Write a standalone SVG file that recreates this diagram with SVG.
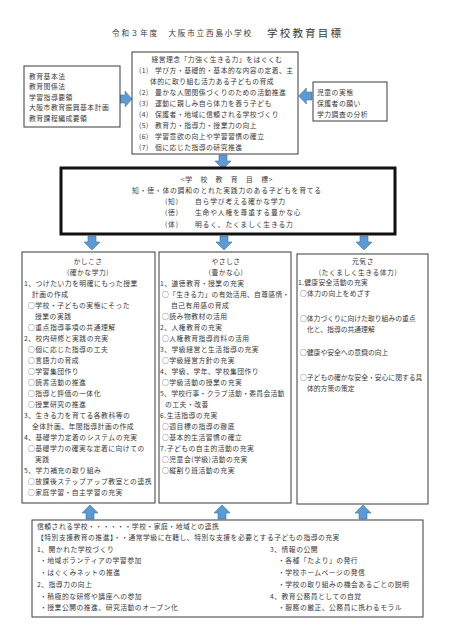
<svg xmlns="http://www.w3.org/2000/svg" width="451" height="640" viewBox="0 0 451 640">
<style>
text{font-family:"Noto Sans CJK JP","Noto Sans CJK SC",sans-serif;font-size:6.8px;fill:#383838;letter-spacing:0.5px}
.box{fill:#fff;stroke:#3a3a3a;stroke-width:1}
.thick{fill:#fff;stroke:#111;stroke-width:3}
.arr{fill:#5b9bd5;stroke:#41719c;stroke-width:0.6}
.c{text-anchor:middle}
.w{letter-spacing:0.8px}
.b{letter-spacing:0.5px}
.r{letter-spacing:0.3px}
.n{letter-spacing:0}
.t{font-size:7.5px;letter-spacing:1.9px}
.big{font-size:10.5px;letter-spacing:2.2px}
</style>
<defs>
<path id="ad" d="M-4,0 H4 V6 H8 L0,14 L-8,6 H-4 Z"/>
</defs>
<rect width="451" height="640" fill="#fff"/>

<g id="title">
<text class="t" x="112" y="36">令和３年度　大阪市立西島小学校</text>
<text class="big" x="267" y="37">学校教育目標</text>
</g>

<g id="connectors">
<use href="#ad" class="arr" transform="translate(120,99) rotate(-90) scale(1,0.85)"/>
<use href="#ad" class="arr" transform="translate(312,96) rotate(90) scale(1,0.95)"/>
<use href="#ad" class="arr" transform="translate(223,155)"/>
<use href="#ad" class="arr" transform="translate(92,236)"/>
<use href="#ad" class="arr" transform="translate(224,236)"/>
<use href="#ad" class="arr" transform="translate(364,236)"/>
<use href="#ad" class="arr" transform="translate(90,519) rotate(180)"/>
<use href="#ad" class="arr" transform="translate(222,519) rotate(180)"/>
<use href="#ad" class="arr" transform="translate(363,519) rotate(180)"/>
</g>

<g id="laws">
<rect class="box" x="24" y="66" width="96" height="61"/>
<text x="29" y="78.5">教育基本法</text>
<text x="29" y="89">教育関係法</text>
<text x="29" y="99.5">学習指導要領</text>
<text x="29" y="110">大阪市教育振興基本計画</text>
<text x="29" y="120.5">教育課程編成要領</text>
</g>

<g id="philosophy">
<rect class="box" x="132" y="52" width="166" height="102"/>
<text class="c" x="217" y="61.5">経営理念「力強く生きる力」をはぐくむ</text>
<text x="139" y="72.5">(1)</text><text x="155" y="72.5">学び方・基礎的・基本的な内容の定着、主</text>
<text x="150" y="83.5">体的に取り組む活力ある子どもの育成</text>
<text x="139" y="95">(2)</text><text x="155" y="95">豊かな人間関係づくりのための活動推進</text>
<text x="139" y="106">(3)</text><text x="155" y="106">運動に親しみ自ら体力を養う子ども</text>
<text x="139" y="117">(4)</text><text x="155" y="117">保護者・地域に信頼される学校づくり</text>
<text x="139" y="128">(5)</text><text x="155" y="128">教育力・指導力・授業力の向上</text>
<text x="139" y="139">(6)</text><text x="155" y="139">学習意欲の向上や学習習慣の確立</text>
<text x="139" y="150">(7)</text><text x="155" y="150">個に応じた指導の研究推進</text>
</g>

<g id="needs">
<rect class="box" x="313" y="82" width="74" height="39"/>
<text x="317" y="94.5">児童の実態</text>
<text x="317" y="105.5">保護者の願い</text>
<text x="317" y="116.5">学力調査の分析</text>
</g>

<g id="goal">
<rect class="thick" x="61" y="168" width="334" height="66"/>
<text class="c w" x="227" y="181.5">&lt;学　校　教　育　目　標&gt;</text>
<text class="c w" x="227" y="192.5">知・徳・体の調和のとれた実践力のある子どもを育てる</text>
<text class="w" x="165" y="203.5">(知)</text><text class="w" x="195" y="203.5">自ら学び考える確かな学力</text>
<text class="w" x="165" y="215">(徳)</text><text class="w" x="195" y="215">生命や人権を尊重する豊かな心</text>
<text class="w" x="165" y="226.5">(体)</text><text class="w" x="195" y="226.5">明るく、たくましく生きる力</text>
</g>

<g id="kashikosa">
<rect class="box" x="22" y="252" width="133" height="251"/>
<text class="c" x="88" y="263.5">かしこさ</text>
<text class="c" x="88" y="274.5">(確かな学力)</text>
<text x="24" y="285.5">1、つけたい力を明確にもった授業</text>
<text x="32" y="296.5">計画の作成</text>
<text x="28" y="307.5">○学校・子どもの実態にそった</text>
<text x="35" y="318.5">授業の実践</text>
<text x="28" y="329.5">○重点指導事項の共通理解</text>
<text x="24" y="340.5">2、校内研修と実践の充実</text>
<text x="28" y="351.5">○個に応じた指導の工夫</text>
<text x="28" y="362.5">○言語力の育成</text>
<text x="28" y="373.5">○学習集団作り</text>
<text x="28" y="384.5">○読書活動の推進</text>
<text x="28" y="395.5">○指導と評価の一体化</text>
<text x="28" y="406.5">○授業研究の推進</text>
<text x="24" y="417.5">3、生きる力を育てる各教科等の</text>
<text x="32" y="428.5">全体計画、年間指導計画の作成</text>
<text x="24" y="439.5">4、基礎学力定着のシステムの充実</text>
<text x="28" y="450.5">○基礎学力の確実な定着に向けての</text>
<text x="35" y="461.5">実践</text>
<text x="24" y="472.5">5、学力補充の取り組み</text>
<text x="28" y="483.5">○放課後ステップアップ教室との連携</text>
<text x="28" y="494.5">○家庭学習・自主学習の充実</text>
</g>

<g id="yasashisa">
<rect class="box" x="159" y="252" width="132" height="251"/>
<text class="c" x="226" y="263.5">やさしさ</text>
<text class="c" x="226" y="274.5">(豊かな心)</text>
<text x="160" y="285.5">1、道徳教育・授業の充実</text>
<text class="r" x="162" y="296.5">○「生きる力」の有効活用、自尊感情・</text>
<text x="171" y="307.5">自己有用感の育成</text>
<text x="162" y="318.5">○読み物教材の活用</text>
<text x="160" y="329.5">2、人権教育の充実</text>
<text x="162" y="340.5">○人権教育指導資料の活用</text>
<text x="160" y="351.5">3、学級経営と生活指導の充実</text>
<text x="162" y="362.5">○学級経営方針の充実</text>
<text x="160" y="373.5">4、学級、学年、学校集団作り</text>
<text x="162" y="384.5">○学級活動の授業の充実</text>
<text class="r" x="160" y="395.5">5、学校行事・クラブ活動・委員会活動</text>
<text x="165" y="406.5">の工夫・改善</text>
<text x="160" y="417.5">6.生活指導の充実</text>
<text x="162" y="428.5">○週目標の指導の徹底</text>
<text x="162" y="439.5">○基本的生活習慣の確立</text>
<text x="160" y="450.5">7.子どもの自主的活動の充実</text>
<text x="162" y="461.5">○児童会(学級)活動の充実</text>
<text x="162" y="472.5">○縦割り班活動の充実</text>
</g>

<g id="genkisa">
<rect class="box" x="297" y="254" width="131" height="250"/>
<text class="c" x="363" y="263.5">元気さ</text>
<text class="c" x="358" y="274.5">(たくましく生きる体力)</text>
<text class="r" x="298" y="284.5">1.健康安全活動の充実</text>
<text class="r" x="300" y="295.5">○体力の向上をめざす</text>
<text class="n" x="300" y="320.5">○体力づくりに向けた取り組みの重点</text>
<text class="n" x="307" y="331.5">化と、指導の共通理解</text>
<text class="n" x="300" y="355">○健康や安全への意識の向上</text>
<text class="n" x="300" y="379.5">○子どもの確かな安全・安心に関する具</text>
<text class="n" x="307" y="390.5">体的方策の策定</text>
</g>

<g id="trust">
<rect class="box" x="32" y="520" width="391" height="97"/>
<text class="b" x="37" y="528.5">信頼される学校・・・・・・学校・家庭・地域との連携</text>
<text class="b" x="37" y="540">【特別支援教育の推進】・・通常学級に在籍し、特別な支援を必要とする子どもの指導の充実</text>
<text class="b" x="37" y="551.5">1、開かれた学校づくり</text>
<text class="b" x="40" y="563">・地域ボランティアの学習参加</text>
<text class="b" x="40" y="574.5">・はぐくみネットの推進</text>
<text class="b" x="37" y="586.5">2、指導力の向上</text>
<text class="b" x="40" y="598.5">・積極的な研修や講座への参加</text>
<text class="b" x="40" y="610">・授業公開の推進、研究活動のオープン化</text>
<text class="b" x="270" y="551.5">3、情報の公開</text>
<text class="b" x="278" y="563">・各種「たより」の発行</text>
<text class="b" x="278" y="574.5">・学校ホームページの発信</text>
<text class="b" x="278" y="586.5">・学校の取り組みの機会あるごとの説明</text>
<text class="b" x="270" y="598.5">4、教育公務員としての自覚</text>
<text class="b" x="278" y="610">・服務の厳正、公務員に携わるモラル</text>
</g>
</svg>
